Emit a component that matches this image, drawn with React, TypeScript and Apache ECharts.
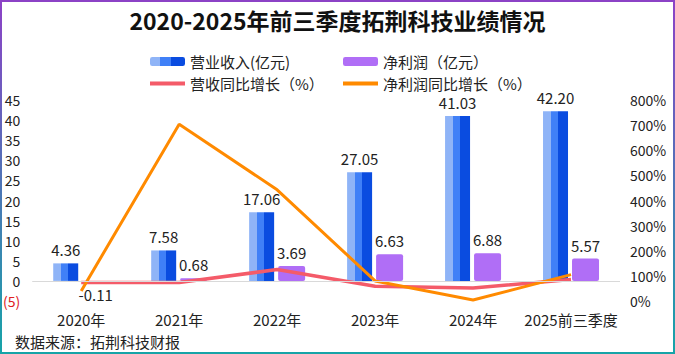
import React, { useEffect, useRef } from "react";
import * as echarts from "echarts";

const categories = ["2020年", "2021年", "2022年", "2023年", "2024年", "2025前三季度"];
const revenue = [4.36, 7.58, 17.06, 27.05, 41.03, 42.2];
const netProfit = [-0.11, 0.68, 3.69, 6.63, 6.88, 5.57];
const revenueGrowth = [73.5, 73.9, 125.0, 58.6, 51.7, 85.3];
const profitGrowth = [40, 703.7, 442.6, 79.8, 3.9, 105.1];
const seriesNames = ["营业收入(亿元)", "净利润（亿元）", "营收同比增长（%）", "净利润同比增长（%）"];

const FONT = "'Noto Sans CJK SC', 'Noto Sans', sans-serif";
const TXT = "#222";

export default function App() {
  const ref = useRef<HTMLDivElement>(null);
  useEffect(() => {
    document.body.style.margin = "0";
    const chart = echarts.init(ref.current!, null, { renderer: "svg" });
    const stripe = new echarts.graphic.LinearGradient(0, 0, 1, 0, [
      { offset: 0, color: "#8FB4F7" },
      { offset: 0.3, color: "#8FB4F7" },
      { offset: 0.3, color: "#4080F7" },
      { offset: 0.6, color: "#4080F7" },
      { offset: 0.6, color: "#0A4CE0" },
      { offset: 1, color: "#0A4CE0" },
    ]);
    const legendBase = {
      itemWidth: 35,
      itemHeight: 9,
      textStyle: { fontFamily: FONT, fontSize: 15, color: TXT },
      selectedMode: false as const,
    };
    const lineLegend = { ...legendBase, itemHeight: 4 };
    const barLabel = {
      show: true,
      position: "top",
      distance: 6,
      fontFamily: FONT,
      fontSize: 15,
      color: TXT,
      formatter: (p: any) => Number(p.value).toFixed(2),
    };
    chart.setOption({
      animation: false,
      textStyle: { fontFamily: FONT },
      title: {
        text: "2020-2025年前三季度拓荆科技业绩情况",
        left: "center",
        top: 3,
        textStyle: { fontFamily: FONT, fontSize: 23, fontWeight: "bold", color: "#111" },
      },
      legend: [
        { ...legendBase, data: [seriesNames[0]], left: 145, top: 49 },
        { ...legendBase, data: [seriesNames[1]], left: 338, top: 49 },
        { ...lineLegend, data: [{ name: seriesNames[2], icon: "rect" }], left: 145, top: 71 },
        { ...lineLegend, data: [{ name: seriesNames[3], icon: "rect" }], left: 338, top: 71 },
      ],
      grid: { left: 30, right: 55, top: 100, bottom: 53 },
      xAxis: {
        type: "category",
        data: categories,
        axisLine: { show: false },
        axisTick: { show: false },
        axisLabel: { fontFamily: FONT, fontSize: 15, color: TXT, margin: 11, interval: 0 },
      },
      yAxis: [
        {
          type: "value",
          min: -5,
          max: 45,
          interval: 5,
          splitLine: { show: false },
          axisLine: { show: false },
          axisTick: { show: false },
          axisLabel: {
            fontFamily: FONT,
            fontSize: 14,
            color: TXT,
            margin: 12,
            formatter: (v: number) => (v < 0 ? `{neg|(${Math.abs(v)})}` : `${v}`),
            rich: { neg: { color: "#E0201E", fontFamily: FONT, fontSize: 14 } },
          },
        },
        {
          type: "value",
          min: 0,
          max: 800,
          interval: 100,
          splitLine: { show: false },
          axisLine: { show: false },
          axisTick: { show: false },
          axisLabel: { fontFamily: FONT, fontSize: 14, color: TXT, margin: 10, formatter: "{value}%" },
        },
      ],
      series: [
        {
          name: seriesNames[0],
          type: "bar",
          data: revenue,
          barWidth: 25,
          barGap: "16%",
          itemStyle: { color: stripe },
          label: barLabel,
          markLine: {
            silent: true,
            symbol: "none",
            label: { show: false },
            lineStyle: { color: "#D9D9D9", width: 1, type: "solid" },
            data: [{ yAxis: 0 }],
          },
          z: 2,
        },
        {
          name: seriesNames[1],
          type: "bar",
          data: netProfit.map((v) => (v < 0 ? { value: v, label: { position: "bottom" } } : v)),
          barWidth: 27,
          itemStyle: { color: "#B06EF6", borderRadius: 2 },
          label: barLabel,
          z: 2,
        },
        {
          name: seriesNames[2],
          type: "line",
          yAxisIndex: 1,
          data: revenueGrowth,
          symbol: "none",
          lineStyle: { color: "#F45B69", width: 3.5 },
          itemStyle: { color: "#F45B69" },
          z: 3,
        },
        {
          name: seriesNames[3],
          type: "line",
          yAxisIndex: 1,
          data: profitGrowth,
          symbol: "none",
          lineStyle: { color: "#FF8A00", width: 3 },
          itemStyle: { color: "#FF8A00" },
          z: 4,
        },
      ],
      graphic: [
        {
          type: "text",
          left: 15,
          top: 334,
          style: { text: "数据来源：拓荆科技财报", fontFamily: FONT, fontSize: 15, fill: TXT },
        },
        {
          type: "rect",
          shape: { x: 1, y: 1, width: 673, height: 352 },
          style: {
            fill: "none",
            lineWidth: 2,
            stroke: new echarts.graphic.LinearGradient(0, 0, 0, 1, [
              { offset: 0, color: "#8C42C6" },
              { offset: 1, color: "#16A4A8" },
            ]),
          },
          silent: true,
        },
      ],
    });
    return () => chart.dispose();
  }, []);
  return <div ref={ref} style={{ width: 675, height: 354 }} />;
}
